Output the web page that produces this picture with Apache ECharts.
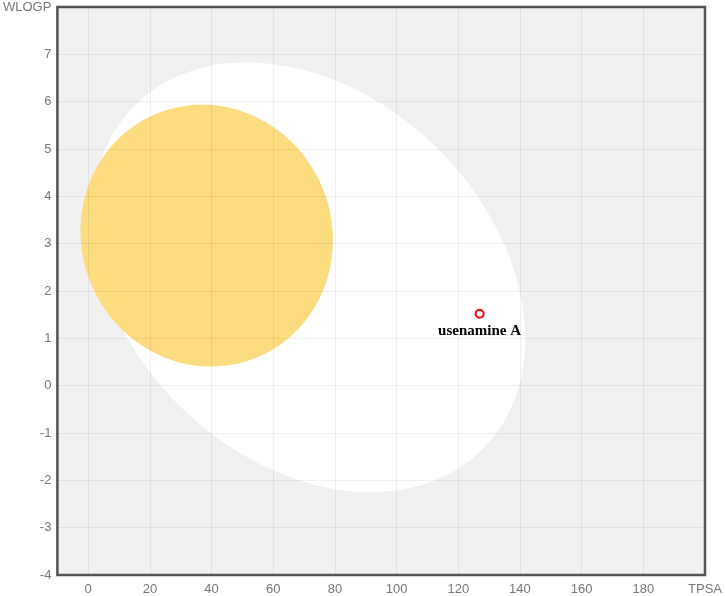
<!DOCTYPE html>
<html>
<head>
<meta charset="utf-8">
<script src="https://cdn.jsdelivr.net/npm/echarts@6/dist/echarts.min.js"></script>
<style>
html,body{margin:0;padding:0;background:#fff;}
#chart{width:725px;height:596px;}
</style>
</head>
<body>
<div id="chart"></div>
<script>
// Axis settings
const xAxisName = 'TPSA';
const yAxisName = 'WLOGP';
const xRange = [-10, 200];
const yRange = [-4, 8];

// Molecule points
const moleculeNames = ['usenamine A'];
const tpsaValues = [126.9];
const wlogpValues = [1.52];

// Egg regions: centre (TPSA, WLOGP) and two conjugate semi-axis vectors (data units)
const whiteCenter = [71.5, 2.29];
const whiteAxisU = [56.6, -3.62];
const whiteAxisV = [-41.5, -2.74];
const yolkCenter = [38.4, 3.17];
const yolkAxisU = [15.7, -2.59];
const yolkAxisV = [-37.8, -0.97];

const chart = echarts.init(document.getElementById('chart'), null, {renderer: 'canvas'});

function ellipseSeries(name, center, u, v, color, z) {
  return {
    type: 'custom',
    name: name,
    z: z,
    silent: true,
    clip: false,
    data: [[center[0], center[1]]],
    encode: {x: 0, y: 1},
    renderItem: function (params, api) {
      const pts = [];
      const n = 180;
      for (let i = 0; i < n; i++) {
        const t = (i / n) * Math.PI * 2;
        const c = Math.cos(t), s = Math.sin(t);
        pts.push(api.coord([center[0] + u[0] * c + v[0] * s, center[1] + u[1] * c + v[1] * s]));
      }
      return {type: 'polygon', shape: {points: pts}, style: {fill: color, stroke: null}};
    }
  };
}

const labelFont = 'Liberation Sans, Arial, sans-serif';

chart.setOption({
  animation: false,
  grid: {
    left: 57, right: 20, top: 7, bottom: 20,
    show: true,
    backgroundColor: '#f1f1f1',
    borderColor: '#555',
    borderWidth: 2.5
  },
  xAxis: {
    type: 'value',
    min: xRange[0], max: xRange[1],
    splitNumber: 10,
    z: 3,
    axisLine: {show: false},
    axisTick: {show: false},
    splitLine: {show: true, lineStyle: {color: 'rgba(0,0,0,0.06)', width: 1}},
    axisLabel: {
      color: '#777', fontSize: 13, fontFamily: labelFont, margin: 8,
      showMinLabel: true, showMaxLabel: true,
      formatter: function (v) {
        if (v === xRange[1]) return xAxisName;
        if (v < 0) return '';
        return String(v);
      }
    }
  },
  yAxis: {
    type: 'value',
    min: yRange[0], max: yRange[1],
    interval: 1,
    z: 3,
    axisLine: {show: false},
    axisTick: {show: false},
    splitLine: {show: true, lineStyle: {color: 'rgba(0,0,0,0.06)', width: 1}},
    axisLabel: {
      color: '#777', fontSize: 13, fontFamily: labelFont, margin: 6,
      showMinLabel: true, showMaxLabel: true,
      formatter: function (v) {
        if (v === yRange[1]) return yAxisName;
        return String(v);
      }
    }
  },
  series: [
    ellipseSeries('HIA', whiteCenter, whiteAxisU, whiteAxisV, '#ffffff', 1),
    ellipseSeries('BBB', yolkCenter, yolkAxisU, yolkAxisV, '#fddc80', 2),
    {
      type: 'scatter',
      z: 5,
      symbol: 'circle',
      symbolSize: 8,
      data: tpsaValues.map((x, i) => ({value: [x, wlogpValues[i]], name: moleculeNames[i]})),
      itemStyle: {color: '#ffffff', borderColor: '#ff0000', borderWidth: 2, opacity: 1},
      label: {
        show: true,
        position: 'bottom',
        distance: 5,
        formatter: '{b}',
        color: '#000',
        fontFamily: 'Liberation Serif, Times New Roman, serif',
        fontWeight: 'bold',
        fontSize: 15
      }
    }
  ]
});
</script>
</body>
</html>
